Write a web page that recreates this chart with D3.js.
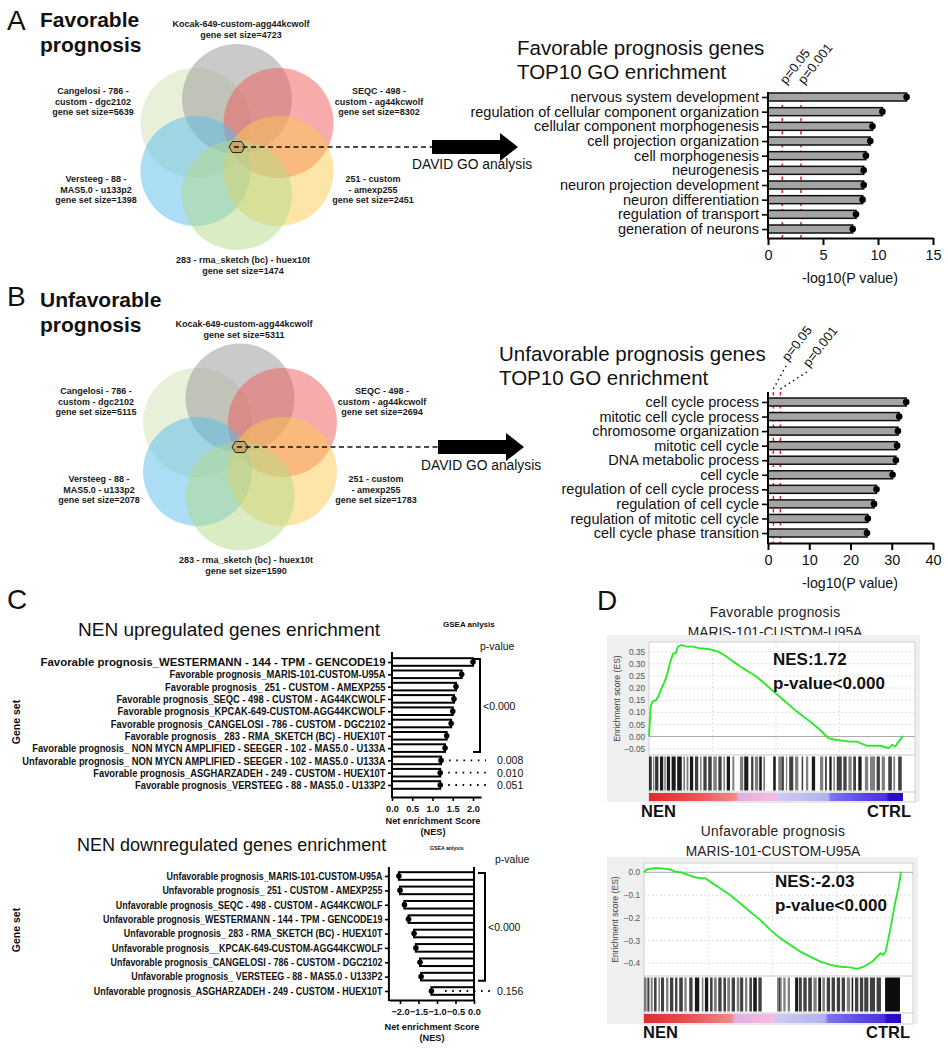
<!DOCTYPE html>
<html><head><meta charset="utf-8">
<script src="https://cdn.jsdelivr.net/npm/d3@7"></script>
<style>body{margin:0;background:#fff}svg{font-family:"Liberation Sans",Arial,sans-serif}</style>
</head><body>
<svg id="c" width="948" height="1050"></svg>
<script>
// ================= DATA =================
const vennLabelLines = [
  ["Kocak-649-custom-agg44kcwolf"],
  ["SEQC - 498 -", "custom - ag44kcwolf"],
  ["251 - custom", "- amexp255"],
  ["283 - rma_sketch (bc) - huex10t"],
  ["Versteeg - 88 -", "MAS5.0 - u133p2"],
  ["Cangelosi - 786 -", "custom - dgc2102"]
];
const vennSizesFav = [4723, 8302, 2451, 1474, 1398, 5639];
const vennSizesUnfav = [5311, 2694, 1783, 1590, 2078, 5115];
const vennColors = ["#959595", "#f25757", "#fcc94f", "#b3d98a", "#58bbec", "#d2e2b6"];

const goTermsFav = ["nervous system development", "regulation of cellular component organization",
  "cellular component morphogenesis", "cell projection organization", "cell morphogenesis",
  "neurogenesis", "neuron projection development", "neuron differentiation",
  "regulation of transport", "generation of neurons"];
const goLogPFav = [12.6, 10.4, 9.5, 9.3, 8.9, 8.7, 8.7, 8.6, 8.0, 7.7];
const goTicksFav = [0, 5, 10, 15];

const goTermsUnfav = ["cell cycle process", "mitotic cell cycle process", "chromosome organization",
  "mitotic cell cycle", "DNA metabolic process", "cell cycle", "regulation of cell cycle process",
  "regulation of cell cycle", "regulation of mitotic cell cycle", "cell cycle phase transition"];
const goLogPUnfav = [33.5, 31.8, 31.5, 31.3, 31.0, 30.2, 26.3, 25.7, 24.2, 24.0];
const goTicksUnfav = [0, 10, 20, 30, 40];
const pThresholds = [0.05, 0.001];
const pThresholdLabels = ["p=0.05", "p=0.001"];

const upSets = [
  "Favorable prognosis_WESTERMANN - 144 - TPM - GENCODE19",
  "Favorable prognosis_MARIS-101-CUSTOM-U95A",
  "Favorable prognosis_ 251 - CUSTOM - AMEXP255",
  "Favorable prognosis_SEQC - 498 - CUSTOM - AG44KCWOLF",
  "Favorable prognosis_KPCAK-649-CUSTOM-AGG44KCWOLF",
  "Favorable prognosis_CANGELOSI - 786 - CUSTOM - DGC2102",
  "Favorable prognosis_ 283 - RMA_SKETCH (BC) - HUEX10T",
  "Favorable prognosis_ NON MYCN AMPLIFIED - SEEGER - 102 - MAS5.0 - U133A",
  "Unfavorable prognosis_ NON MYCN AMPLIFIED - SEEGER - 102 - MAS5.0 - U133A",
  "Favorable prognosis_ASGHARZADEH - 249 - CUSTOM - HUEX10T",
  "Favorable prognosis_VERSTEEG - 88 - MAS5.0 - U133P2"];
const upNES = [2.00, 1.72, 1.58, 1.53, 1.50, 1.46, 1.35, 1.31, 1.21, 1.19, 1.19];
const upP = ["<0.000", "<0.000", "<0.000", "<0.000", "<0.000", "<0.000", "<0.000", "<0.000", "0.008", "0.010", "0.051"];
const upTicks = [0, 0.5, 1.0, 1.5, 2.0];

const downSets = [
  "Unfavorable prognosis_MARIS-101-CUSTOM-U95A",
  "Unfavorable prognosis_ 251 - CUSTOM - AMEXP255",
  "Unfavorable prognosis_SEQC - 498 - CUSTOM - AG44KCWOLF",
  "Unfavorable prognosis_WESTERMANN - 144 - TPM - GENCODE19",
  "Unfavorable prognosis_ 283 - RMA_SKETCH (BC) - HUEX10T",
  "Unfavorable prognosis__KPCAK-649-CUSTOM-AGG44KCWOLF",
  "Unfavorable prognosis_CANGELOSI - 786 - CUSTOM - DGC2102",
  "Unfavorable prognosis_ VERSTEEG - 88 - MAS5.0 - U133P2",
  "Unfavorable prognosis_ASGHARZADEH - 249 - CUSTOM - HUEX10T"];
const downNES = [-2.03, -2.00, -1.88, -1.77, -1.62, -1.57, -1.46, -1.43, -1.15];
const downP = ["<0.000", "<0.000", "<0.000", "<0.000", "<0.000", "<0.000", "<0.000", "<0.000", "0.156"];
const downTicks = [-2.0, -1.5, -1.0, -0.5, 0.0];

// GSEA running enrichment score (rank in % of list, ES)
const esFavRank = [0, 0.7, 1.3, 2.9, 3.6, 4.9, 6.2, 7.1, 8.2, 9.5, 10.5, 11.4, 12.8, 14.7, 17.4, 20, 23.9, 27.2, 30.5, 33.2, 37.1, 42.4, 47.6, 52.9, 58.2, 63.4, 67.4, 70.7, 73.9, 79.2, 81.8, 85.8, 91.1, 94.3, 95.7, 97, 98.3, 100];
const esFavES = [0, 0.124, 0.144, 0.151, 0.165, 0.199, 0.227, 0.254, 0.302, 0.343, 0.343, 0.371, 0.378, 0.371, 0.371, 0.364, 0.36, 0.35, 0.33, 0.309, 0.281, 0.247, 0.199, 0.151, 0.103, 0.062, 0.027, -0.007, -0.014, -0.021, -0.021, -0.038, -0.038, -0.048, -0.034, -0.041, -0.021, 0.003];
const esFavTicks = [-0.05, 0, 0.05, 0.10, 0.15, 0.20, 0.25, 0.30, 0.35];
const esUnfavRank = [0, 1, 3.6, 6.2, 10.1, 12.1, 14.7, 17.3, 19.9, 21.8, 23.8, 25.7, 29.6, 33.5, 37.4, 41.3, 45.2, 49.1, 53, 56.9, 60.8, 64.7, 68.6, 72.5, 76.4, 80.3, 82.9, 85.5, 88.8, 92, 93, 94, 95.8, 97.8, 99.1, 100];
const esUnfavES = [0, 0.013, 0.018, 0.018, 0.013, 0.003, -0.001, -0.012, -0.022, -0.026, -0.026, -0.041, -0.07, -0.1, -0.136, -0.173, -0.209, -0.253, -0.29, -0.319, -0.349, -0.371, -0.393, -0.407, -0.415, -0.418, -0.425, -0.415, -0.393, -0.356, -0.363, -0.349, -0.253, -0.129, -0.063, 0.003];
const esUnfavTicks = [0, -0.1, -0.2, -0.3, -0.4];

// hit bands: [start %, end %, darkness]
const hitsFav = [[0,1.1,.8],[1.6,2.1,.5],[2.4,3.7,.8],[4.3,5.6,.9],[6.0,6.6,.5],[7.0,8.3,.9],[8.9,10.5,.9],[11.1,12.9,.9],[13.5,14.2,.5],[14.8,15.5,.5],[16.1,17.4,.9],[18.1,19.4,.75],[20.1,20.7,.5],[21.4,22.7,.75],[23.3,24.7,.75],[25.3,26.7,.5],[27.3,28.6,.75],[29.3,29.9,.5],[30.6,31.9,.9],[32.8,33.6,.5],[35.8,37.1,.5],[37.5,39.1,.9],[40.2,41.1,.75],[41.7,43.0,.5],[43.4,44.4,.9],[45.0,45.7,.5],[48.9,49.9,.9],[50.9,52.2,.5],[52.2,53.1,.75],[53.9,54.4,.5],[55.2,56.8,.75],[57.5,58.8,.5],[60.1,60.7,.75],[61.8,62.7,.5],[64.1,65.4,.9],[67.3,68.6,.5],[69.3,70.0,.75],[71.0,71.9,.9],[72.6,73.2,.5],[73.9,75.9,.75],[76.5,77.8,.75],[78.5,79.8,.5],[80.4,81.5,.75],[82.4,83.7,.9],[85.0,86.3,.5],[87.0,89.0,.5],[89.6,90.9,.75],[91.6,92.9,.5],[94.2,95.6,.75],[96.2,96.9,.5],[98.1,99.5,.75]];
const hitsUnfav = [[0,1.0,.5],[1.3,2.1,.75],[2.6,3.4,.5],[3.9,4.9,.75],[5.6,6.2,.5],[6.6,7.8,.75],[8.6,9.5,.5],[10.1,11.4,.75],[12.1,13.0,.75],[13.7,15.1,.75],[15.7,16.6,.5],[17.6,18.9,.75],[19.8,21.5,.9],[22.5,23.1,.5],[23.7,25.0,.9],[25.7,26.7,.75],[27.2,28.3,.5],[28.9,30.2,.75],[30.9,31.9,.75],[32.4,33.5,.5],[34.1,35.4,.75],[36.1,37.1,.5],[37.4,38.6,.75],[39.3,40.2,.5],[41.0,42.0,.75],[42.5,43.9,.9],[44.5,45.8,.75],[51.8,52.9,.5],[52.5,53.6,.5],[54.2,55.1,.5],[55.9,56.8,.5],[58.8,60.0,.9],[60.3,61.4,.75],[62.0,63.3,.75],[63.9,65.3,.75],[65.9,67.2,.5],[67.8,68.9,.9],[69.4,70.4,.5],[71.1,72.4,.75],[73.0,74.3,.75],[75.0,76.3,.75],[76.9,78.2,.75],[78.9,80.2,.5],[80.8,81.4,.9],[82.1,83.4,.75],[84.0,85.3,.75],[85.7,87.3,.75],[87.9,89.9,.75],[90.5,92.2,.75],[93.8,99.6,.95]];
const rankColorStops = [[0,"#dc2c2c"],[18,"#ea5050"],[34,"#f08a8a"],[35.5,"#e0b0e2"],[44,"#f4b4e0"],[50.5,"#f6bce6"],[51.5,"#cccaf4"],[70.5,"#b4b0f0"],[71.5,"#8074ee"],[85,"#5a46e6"],[93.5,"#4a30e0"],[94.5,"#2a0cc8"],[100,"#2a0cc8"]];

// ---- layout / style (not data) ----
const upLabelScaleX = [1, .82, .82, .82, .82, .82, .82, .82, .82, .82, .82];
const downLabelScaleX = [.85, .85, .85, .85, .85, .85, .85, .85, .85];

// ================= DRAW =================
const F = '"Liberation Sans", Arial, sans-serif';
const svg = d3.select("#c");
svg.append("rect").attr("width", 948).attr("height", 1050).attr("fill", "#fff");

function txt(g, x, y, s, o = {}) {
  return g.append("text").attr("x", x).attr("y", y).text(s)
    .attr("font-size", o.size || 12).attr("font-weight", o.bold ? "bold" : "normal")
    .attr("text-anchor", o.anchor || "start").attr("fill", o.fill || "#111")
    .attr("font-family", F);
}

txt(svg, 7, 30, "A", {size: 28});
txt(svg, 40, 27, "Favorable", {size: 21, bold: true});
txt(svg, 40, 52, "prognosis", {size: 21, bold: true});
txt(svg, 7, 306, "B", {size: 28});
txt(svg, 40, 307, "Unfavorable", {size: 21, bold: true});
txt(svg, 40, 332, "prognosis", {size: 21, bold: true});
txt(svg, 7, 609, "C", {size: 28});
txt(svg, 597, 610, "D", {size: 28});

// ---------- Venn ----------
function venn(cx, cy, d, r, sizes, arrowX, davidX, davidY) {
  const g = svg.append("g");
  const angles = [-90, -30, 30, 90, 150, 210];
  const order = [5, 0, 1, 4, 2, 3];
  order.forEach(i => {
    const a = angles[i] * Math.PI / 180;
    g.append("circle").attr("cx", cx + d * Math.cos(a)).attr("cy", cy + d * Math.sin(a))
      .attr("r", r).attr("fill", vennColors[i]).attr("fill-opacity", 0.5);
  });
  const offs = [[4, -120], [142, -53], [136, 35], [6, 116], [-141, 35], [-144, -53]];
  vennLabelLines.forEach((lines, i) => {
    const all = lines.concat(["gene set size=" + sizes[i]]);
    all.forEach((s, k) => txt(g, cx + offs[i][0], cy + offs[i][1] + k * 10.6, s,
      {size: 9, bold: true, anchor: "middle", fill: "#1a1a1a"}));
  });
  const hx = [[-8, 0], [-4.5, -5.5], [4.5, -5.5], [8, 0], [4.5, 5.5], [-4.5, 5.5]];
  g.append("polygon").attr("points", hx.map(p => [cx + p[0], cy + p[1]].join(",")).join(" "))
    .attr("fill", "#c9a66b").attr("stroke", "#222").attr("stroke-width", 1);
  g.append("line").attr("x1", cx - 3).attr("x2", arrowX).attr("y1", cy).attr("y2", cy)
    .attr("stroke", "#111").attr("stroke-width", 1.6).attr("stroke-dasharray", "5,3.5");
  const ax = arrowX, ay = cy;
  g.append("polygon").attr("points", [[ax, ay - 7], [ax + 68, ay - 7], [ax + 68, ay - 14], [ax + 86, ay],
    [ax + 68, ay + 14], [ax + 68, ay + 7], [ax, ay + 7]].map(p => p.join(",")).join(" ")).attr("fill", "#000");
  txt(g, davidX, davidY, "DAVID GO analysis", {size: 13.8});
}
venn(237, 147, 48, 55, vennSizesFav, 432, 412, 169);
venn(240, 447, 49, 54.5, vennSizesUnfav, 438, 421, 470);

// ---------- GO bar charts ----------
function goChart(o) {
  const g = svg.append("g");
  const x = d3.scaleLinear().domain([0, o.ticks[o.ticks.length - 1]]).range([768, 933]);
  const y = d3.scalePoint().domain(o.terms).range([o.c0, o.c1]);
  txt(g, o.tx, o.t1, o.title1, {size: 20.5});
  txt(g, o.tx, o.t2, o.title2, {size: 20.5});
  pThresholds.forEach((p, i) => {
    const xv = x(-Math.log10(p));
    g.append("line").attr("x1", xv).attr("x2", xv).attr("y1", o.top).attr("y2", o.bot)
      .attr("stroke", "#e8202a").attr("stroke-width", 1.5).attr("stroke-dasharray", "3.5,3");
    const lp = o.plab[i];
    if (o.leaders) {
      g.append("line").attr("x1", xv).attr("y1", o.top - 3).attr("x2", lp[0] - 2).attr("y2", lp[1] + 4)
        .attr("stroke", "#111").attr("stroke-width", 1.5).attr("stroke-dasharray", "1.5,3.5");
    }
    txt(g, 0, 0, pThresholdLabels[i], {size: 13})
      .attr("transform", `translate(${lp[0]},${lp[1]}) rotate(-52)`);
  });
  g.selectAll("rect.b").data(o.terms).join("rect")
    .attr("x", x(0)).attr("y", d => y(d) - 4)
    .attr("width", (d, i) => x(o.vals[i]) - x(0)).attr("height", 8)
    .attr("fill", "#a4a4a4").attr("stroke", "#111").attr("stroke-width", 1.5);
  g.selectAll("circle.d").data(o.terms).join("circle")
    .attr("cx", (d, i) => x(o.vals[i])).attr("cy", d => y(d)).attr("r", 3.3).attr("fill", "#000");
  const ya = g.append("g").attr("transform", "translate(768,0)")
    .call(d3.axisLeft(y).tickSize(6).tickPadding(3));
  ya.select(".domain").remove();
  ya.selectAll("line").attr("stroke-width", 1.6);
  ya.selectAll("text").attr("font-size", 14.5).attr("font-family", F).attr("fill", "#111");
  g.append("line").attr("x1", 768).attr("x2", 768).attr("y1", o.top).attr("y2", o.bot + 1)
    .attr("stroke", "#000").attr("stroke-width", 2);
  const xa = g.append("g").attr("transform", `translate(0,${o.bot})`)
    .call(d3.axisBottom(x).tickValues(o.ticks).tickSize(7).tickSizeOuter(0).tickPadding(5));
  xa.select(".domain").attr("stroke-width", 2);
  xa.selectAll("line").attr("stroke-width", 2);
  xa.selectAll("text").attr("font-size", 14.5).attr("font-family", F).attr("fill", "#111");
  txt(g, 850, o.bot + 45, "-log10(P value)", {size: 14.2, anchor: "middle"});
}
goChart({terms: goTermsFav, vals: goLogPFav, ticks: goTicksFav, c0: 97, c1: 229, top: 92, bot: 238,
  tx: 517, t1: 55, t2: 79, title1: "Favorable prognosis genes", title2: "TOP10 GO enrichment",
  plab: [[786, 85], [804, 85]], leaders: false});
goChart({terms: goTermsUnfav, vals: goLogPUnfav, ticks: goTicksUnfav, c0: 402, c1: 533, top: 392, bot: 543,
  tx: 499, t1: 361, t2: 385, title1: "Unfavorable prognosis genes", title2: "TOP10 GO enrichment",
  plab: [[788, 362], [809, 368]], leaders: true});

// ---------- NES bar charts ----------
function nesChart(o) {
  const g = svg.append("g");
  const x = d3.scaleLinear().domain(o.dom).range(o.xr);
  const y = d3.scalePoint().domain(o.sets).range([o.c0, o.c1]);
  txt(g, o.tx, o.ty, o.title, {size: o.tsize});
  txt(g, o.gx, o.gy, "GSEA anlysis", {size: o.gsize, bold: true});
  txt(g, o.pvx, o.pvy, "p-value", {size: 10.5});
  const x0 = x(0);
  g.selectAll("rect.b").data(o.sets).join("rect")
    .attr("x", (d, i) => Math.min(x0, x(o.vals[i]))).attr("y", d => y(d) - 3.8)
    .attr("width", (d, i) => Math.abs(x(o.vals[i]) - x0)).attr("height", 7.6)
    .attr("fill", "#fff").attr("stroke", "#000").attr("stroke-width", 2);
  g.selectAll("circle.d").data(o.sets).join("circle")
    .attr("cx", (d, i) => x(o.vals[i])).attr("cy", d => y(d)).attr("r", 2.8).attr("fill", "#000");
  const ya = g.append("g").attr("transform", `translate(${o.axX},0)`)
    .call(d3.axisLeft(y).tickSize(4).tickPadding(2));
  ya.select(".domain").remove();
  ya.selectAll("line").attr("stroke-width", 1.6);
  ya.selectAll("text").attr("font-size", o.lsize).attr("font-weight", "bold").attr("font-family", F).attr("fill", "#111")
    .attr("x", (d, i) => -6.5 / o.lsx[i]).attr("transform", (d, i) => `scale(${o.lsx[i]},1)`);
  g.append("line").attr("x1", o.axX).attr("x2", o.axX).attr("y1", o.top).attr("y2", o.bot + 1)
    .attr("stroke", "#000").attr("stroke-width", 2);
  if (o.zeroLine) g.append("line").attr("x1", x0).attr("x2", x0).attr("y1", o.top).attr("y2", o.bot)
    .attr("stroke", "#000").attr("stroke-width", 2);
  const xa = g.append("g").attr("transform", `translate(0,${o.bot})`)
    .call(d3.axisBottom(x).tickValues(o.ticks).tickFormat(d3.format(".1f")).tickSize(4).tickSizeOuter(0).tickPadding(4));
  xa.select(".domain").attr("stroke-width", 2);
  xa.selectAll("line").attr("stroke-width", 1.6);
  xa.selectAll("text").attr("font-size", 9.2).attr("font-weight", "bold").attr("font-family", F).attr("fill", "#111");
  txt(g, o.nx, o.ny, "Net enrichment Score", {size: 9.2, bold: true, anchor: "middle"});
  txt(g, o.nx, o.ny + 11, "(NES)", {size: 9.2, bold: true, anchor: "middle"});
  txt(g, 0, 0, "Gene set", {size: 10.5, bold: true, anchor: "middle"})
    .attr("transform", `translate(20,${o.gsY}) rotate(-90)`);
  const grp = o.sets.filter((d, i) => o.p[i] === "<0.000");
  const yA = y(grp[0]) - 3, yB = y(grp[grp.length - 1]) + 4;
  g.append("path").attr("d", `M${o.brX - 7},${yA}H${o.brX}V${yB}H${o.brX - 7}`)
    .attr("fill", "none").attr("stroke", "#000").attr("stroke-width", 2);
  txt(g, o.brX + 3, (yA + yB) / 2 + 4, "<0.000", {size: 10.5});
  o.sets.forEach((d, i) => {
    if (o.p[i] === "<0.000") return;
    const start = o.dotX0 != null ? o.dotX0 : x(o.vals[i]) + 8;
    g.append("line").attr("x1", start).attr("x2", o.brX + 6).attr("y1", y(d)).attr("y2", y(d))
      .attr("stroke", "#000").attr("stroke-width", 1.8).attr("stroke-dasharray", "1.6,5.6");
    txt(g, 497, y(d) + 4, o.p[i], {size: 10.5});
  });
}
nesChart({sets: upSets, vals: upNES, p: upP, ticks: upTicks, dom: [0, 2.2], xr: [392, 481.1],
  c0: 662, c1: 785, top: 652, bot: 797, axX: 392, lsize: 11.4, lsx: upLabelScaleX, zeroLine: false,
  title: "NEN upregulated genes enrichment", tx: 78, ty: 636, tsize: 19,
  gx: 443, gy: 627, gsize: 8, pvx: 480, pvy: 650, nx: 433, ny: 824, gsY: 722,
  brX: 480, dotX0: null});
nesChart({sets: downSets, vals: downNES, p: downP, ticks: downTicks, dom: [-2.3, 0], xr: [388.9, 474],
  c0: 876, c1: 991, top: 867, bot: 1000, axX: 388.9, lsize: 10.5, lsx: downLabelScaleX, zeroLine: true,
  title: "NEN downregulated genes enrichment", tx: 77, ty: 851, tsize: 18,
  gx: 430, gy: 850, gsize: 5.2, pvx: 495, pvy: 863, nx: 432, ny: 1030, gsY: 930,
  brX: 485, dotX0: 445});

// ---------- GSEA enrichment plots ----------
const defs = svg.append("defs");
const grad = defs.append("linearGradient").attr("id", "rankGrad").attr("x1", "0%").attr("x2", "100%");
rankColorStops.forEach(s => grad.append("stop").attr("offset", s[0] + "%").attr("stop-color", s[1]));

function esPlot(o) {
  const g = svg.append("g");
  txt(g, o.cx, o.t1y, o.t1, {size: 13.8, anchor: "middle", fill: "#222"}).attr("letter-spacing", 0.3);
  txt(g, o.cx, o.t2y, "MARIS-101-CUSTOM-U95A", {size: 13.8, anchor: "middle", fill: "#222"});
  g.append("rect").attr("x", o.bx0).attr("y", o.by0).attr("width", o.bx1 - o.bx0).attr("height", o.by1 - o.by0).attr("fill", "#efefef");
  g.append("rect").attr("x", o.px0).attr("y", o.py0).attr("width", o.px1 - o.px0).attr("height", o.by1 - o.py0)
    .attr("fill", "#fff").attr("stroke", "#d0d0d0").attr("stroke-width", 1);
  const xs = d3.scaleLinear().domain([0, 100]).range([o.px0, o.xEnd]);
  const ys = d3.scaleLinear().domain(o.yDom).range(o.yRng);
  o.ticks.forEach(t => {
    g.append("line").attr("x1", o.px0).attr("x2", o.px1).attr("y1", ys(t)).attr("y2", ys(t))
      .attr("stroke", t === 0 ? "#a8a8a8" : "#dcdcdc").attr("stroke-width", 1)
      .attr("stroke-dasharray", t === 0 ? null : "2,2");
  });
  [25, 50, 75].forEach(v => g.append("line").attr("x1", xs(v)).attr("x2", xs(v)).attr("y1", o.py0).attr("y2", o.esBot)
    .attr("stroke", "#e2e2e2").attr("stroke-dasharray", "2,2"));
  g.append("line").attr("x1", o.px0).attr("x2", o.px1).attr("y1", o.esBot).attr("y2", o.esBot).attr("stroke", "#c8c8c8");
  g.append("line").attr("x1", o.px0).attr("x2", o.px1).attr("y1", o.cbTop).attr("y2", o.cbTop).attr("stroke", "#c8c8c8");
  const ya = g.append("g").attr("transform", `translate(${o.px0},0)`)
    .call(d3.axisLeft(ys).tickValues(o.ticks).tickFormat(d3.format(o.fmt)).tickSize(0).tickPadding(4));
  ya.select(".domain").remove();
  ya.selectAll("text").attr("font-size", 8.2).attr("font-family", F).attr("fill", "#555");
  txt(g, 0, 0, "Enrichment score (ES)", {size: 8.6, anchor: "middle", fill: "#444"})
    .attr("transform", `translate(${o.labX},${(o.py0 + o.esBot) / 2}) rotate(-90)`);
  g.selectAll("rect.h").data(o.hits).join("rect")
    .attr("x", d => xs(d[0])).attr("width", d => Math.max(0.8, xs(d[1]) - xs(d[0])))
    .attr("y", o.esBot + 1.5).attr("height", o.cbTop - o.esBot - 3)
    .attr("fill", "#000").attr("fill-opacity", d => d[2]);
  g.append("rect").attr("x", xs(0)).attr("width", xs(100) - xs(0)).attr("y", o.cbTop + 1).attr("height", o.by1 - o.cbTop - 2)
    .attr("fill", "url(#rankGrad)");
  const pts = o.rank.map((r, i) => [r, o.es[i]]);
  g.append("path").attr("d", d3.line().x(d => xs(d[0])).y(d => ys(d[1]))(pts))
    .attr("fill", "none").attr("stroke", "#2de82d").attr("stroke-width", 1.9);
  txt(g, o.nesX, o.nesY, o.nes, {size: 17, bold: true});
  txt(g, o.nesX, o.nesY + 23.5, "p-value<0.000", {size: 17, bold: true});
  txt(g, o.nenX, o.lY, "NEN", {size: 16.5, bold: true});
  txt(g, o.ctrlX, o.lY, "CTRL", {size: 16.5, bold: true});
}
esPlot({t1: "Favorable prognosis", t1y: 617, t2y: 637, cx: 775, bx0: 607, bx1: 920, by0: 635, by1: 802,
  px0: 649, px1: 915, py0: 642, esBot: 755, cbTop: 792, xEnd: 903,
  yDom: [-0.05, 0.35], yRng: [748.7, 651.7], ticks: esFavTicks, fmt: ".2f", labX: 620,
  hits: hitsFav, rank: esFavRank, es: esFavES, nes: "NES:1.72", nesX: 773, nesY: 665,
  nenX: 641, ctrlX: 867, lY: 817});
esPlot({t1: "Unfavorable prognosis", t1y: 836, t2y: 856, cx: 773, bx0: 607, bx1: 918, by0: 857, by1: 1024,
  px0: 644, px1: 913, py0: 863, esBot: 976, cbTop: 1013, xEnd: 901,
  yDom: [-0.4, 0], yRng: [963.3, 872.3], ticks: esUnfavTicks, fmt: ".1f", labX: 618,
  hits: hitsUnfav, rank: esUnfavRank, es: esUnfavES, nes: "NES:-2.03", nesX: 775, nesY: 887,
  nenX: 643, ctrlX: 866, lY: 1038});
</script>
</body></html>
